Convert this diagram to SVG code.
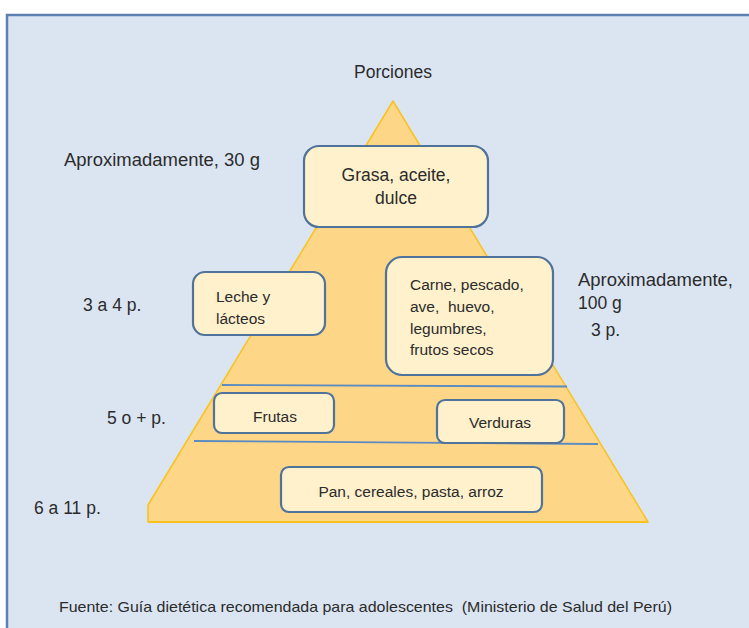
<svg xmlns="http://www.w3.org/2000/svg" width="749" height="628" viewBox="0 0 749 628">
<style>
  text { font-family: "Liberation Sans", Arial, sans-serif; fill: #2b2b2b; }
  .lbl { font-size: 17.5px; }
  .box { fill: #fff1cc; stroke: #50739a; stroke-width: 2.2; }
  .bt { font-size: 15.5px; }
  .sep { stroke: #5b8bc0; stroke-width: 1.8; fill: none; }
</style>
<rect x="0" y="0" width="749" height="628" fill="#ffffff"/>
<rect x="7" y="15" width="760" height="640" fill="#dbe5f2" stroke="#5d80b0" stroke-width="2.5"/>

<g id="pyramid">
  <polygon points="393,101 648,522 148,522 148,505" fill="#fdd688" stroke="#f9c21c" stroke-width="1.5" stroke-linejoin="round"/>
  <line x1="148" y1="522" x2="648" y2="522" stroke="#f9c21c" stroke-width="2.2"/>
</g>

<g id="connectors">
  <line class="sep" x1="222" y1="385" x2="567" y2="386.5"/>
  <line class="sep" x1="194" y1="441" x2="598" y2="444"/>
</g>

<g id="title"><text x="393" y="78" class="lbl" text-anchor="middle">Porciones</text></g>

<g id="label-30g"><text x="64" y="166" class="lbl" textLength="196" lengthAdjust="spacingAndGlyphs">Aproximadamente, 30 g</text></g>
<g id="label-3a4"><text x="83" y="311" class="lbl">3 a 4 p.</text></g>
<g id="label-100g">
  <text x="578" y="286" class="lbl" textLength="155" lengthAdjust="spacingAndGlyphs">Aproximadamente,</text>
  <text x="578" y="309" class="lbl">100 g</text>
  <text x="591" y="336" class="lbl">3 p.</text>
</g>
<g id="label-5o"><text x="107" y="424" class="lbl">5 o + p.</text></g>
<g id="label-6a11"><text x="34" y="514" class="lbl">6 a 11 p.</text></g>

<g id="grasa">
  <rect class="box" x="304" y="146" width="184" height="81" rx="15"/>
  <text x="396" y="181" font-size="17.5" text-anchor="middle">Grasa, aceite,</text>
  <text x="396" y="204" font-size="17.5" text-anchor="middle">dulce</text>
</g>

<g id="leche">
  <rect class="box" x="193" y="272" width="132" height="63" rx="12"/>
  <text x="216" y="302" class="bt">Leche y</text>
  <text x="216" y="324" class="bt">lácteos</text>
</g>

<g id="carne">
  <rect class="box" x="386" y="257" width="167" height="118" rx="16"/>
  <text x="410" y="290" class="bt">Carne, pescado,</text>
  <text x="410" y="312" class="bt" xml:space="preserve">ave,  huevo,</text>
  <text x="410" y="334" class="bt">legumbres,</text>
  <text x="410" y="355" class="bt">frutos secos</text>
</g>

<g id="frutas">
  <rect class="box" x="214" y="393" width="120" height="40" rx="8"/>
  <text x="275" y="422" class="bt" text-anchor="middle">Frutas</text>
</g>

<g id="verduras">
  <rect class="box" x="437" y="400" width="127" height="43" rx="8"/>
  <text x="500" y="428" class="bt" text-anchor="middle">Verduras</text>
</g>

<g id="pan">
  <rect class="box" x="281" y="467" width="261" height="45" rx="8"/>
  <text x="411" y="497" class="bt" text-anchor="middle">Pan, cereales, pasta, arroz</text>
</g>

<g id="footer"><text x="59" y="612" font-size="14.5" textLength="613" lengthAdjust="spacingAndGlyphs" xml:space="preserve">Fuente: Guía dietética recomendada para adolescentes  (Ministerio de Salud del Perú)</text></g>
</svg>
